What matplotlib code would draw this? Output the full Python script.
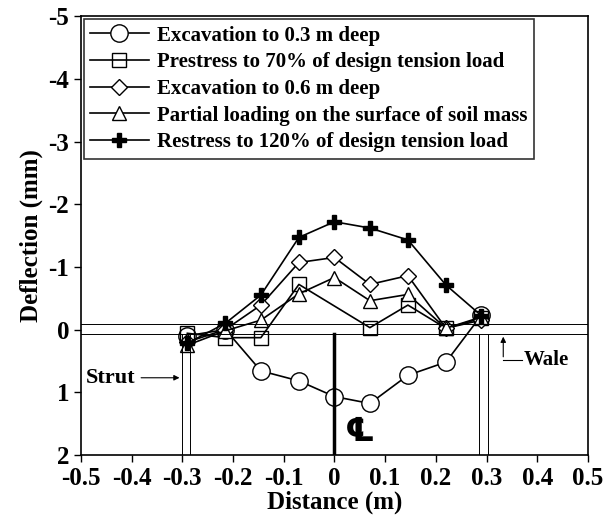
import numpy as np
import matplotlib
matplotlib.use("Agg")
import matplotlib.pyplot as plt

plt.rcParams['font.family'] = ['Liberation Serif', 'DejaVu Serif', 'DejaVu Sans']
plt.rcParams['font.weight'] = 'bold'
plt.rcParams['axes.unicode_minus'] = False

# positions along the wale (m)
x = [-0.29, -0.215, -0.145, -0.07, 0.0, 0.07, 0.145, 0.22, 0.29]
x_sq = [-0.29, -0.215, -0.145, -0.07, 0.07, 0.145, 0.22, 0.29]

exc03 = [0.10, 0.0, 0.66, 0.82, 1.07, 1.18, 0.73, 0.52, -0.23]
pre70 = [0.06, 0.13, 0.13, -0.72, -0.03, -0.39, -0.02, -0.18]
exc06 = [0.20, 0.0, -0.39, -1.07, -1.15, -0.72, -0.86, -0.02, -0.15]
partial = [0.25, 0.02, -0.15, -0.57, -0.83, -0.46, -0.56, -0.02, -0.20]
re120 = [0.22, -0.10, -0.55, -1.47, -1.72, -1.62, -1.43, -0.71, -0.22]

labels = ['Excavation to 0.3 m deep',
          'Prestress to 70% of design tension load',
          'Excavation to 0.6 m deep',
          'Partial loading on the surface of soil mass',
          'Restress to 120% of design tension load']

fig, ax = plt.subplots(figsize=(6.08, 5.24), dpi=100)
fig.subplots_adjust(left=0.133, right=0.967, top=0.969, bottom=0.132)

lw = 1.2
ax.plot(x, exc03, '-o', color='k', mfc='white', mec='k', ms=12.5, lw=lw, mew=1.0, label=labels[0])
ax.plot(x_sq, pre70, '-s', color='k', mfc='none', mec='k', ms=10, lw=lw, mew=1.0, label=labels[1])
ax.plot(x, exc06, '-D', color='k', mfc='white', mec='k', ms=8.5, lw=lw, mew=1.0, label=labels[2])
ax.plot(x, partial, '-^', color='k', mfc='white', mec='k', ms=10, lw=lw, mew=1.0, label=labels[3])
ax.plot(x, re120, '-P', color='k', mfc='k', mec='k', ms=10.5, lw=lw, label=labels[4])

# wale lines
ax.axhline(-0.09, color='k', lw=0.7)
ax.axhline(0.07, color='k', lw=0.7)

# struts
for xs in (-0.301, -0.284, 0.286, 0.302):
    ax.plot([xs, xs], [0.07, 2], color='k', lw=0.7)

# centre line
ax.plot([0, 0], [0.07, 2], color='k', lw=2.5)
ax.text(0.05, 1.65, '\u2104', fontsize=24, ha='center', va='center')

# annotations
ax.annotate('Strut', xy=(-0.3, 0.77), xytext=(-0.49, 0.77), fontsize=16,
            va='center', ha='left',
            arrowprops=dict(arrowstyle='-|>', color='k', lw=0.8, mutation_scale=8))
ax.annotate('', xy=(0.333, 0.07), xytext=(0.333, 0.48),
            arrowprops=dict(arrowstyle='-|>', color='k', lw=0.8, mutation_scale=8))
ax.plot([0.333, 0.37], [0.48, 0.48], color='k', lw=0.8)
ax.text(0.373, 0.48, 'Wale', fontsize=15, va='center', ha='left')

ax.set_xlim(-0.5, 0.5)
ax.set_ylim(2, -5)
ax.set_xticks(np.arange(-0.5, 0.51, 0.1))
ax.set_xticklabels(['-0.5', '-0.4', '-0.3', '-0.2', '-0.1', '0', '0.1', '0.2', '0.3', '0.4', '0.5'])
ax.set_yticks(range(-5, 3))
ax.tick_params(labelsize=18, direction='out', length=5, width=1)
ax.set_xlabel('Distance (m)', fontsize=18, fontweight='bold', labelpad=1)
ax.set_ylabel('Deflection (mm)', fontsize=18, fontweight='bold', labelpad=4)
for s in ax.spines.values():
    s.set_linewidth(1.2)

leg = ax.legend(loc='upper left', fontsize=15, frameon=True, fancybox=False,
                edgecolor='k', handlelength=2.8, borderpad=0.3, labelspacing=0.32,
                handletextpad=0.4, borderaxespad=0.15)
leg.get_frame().set_linewidth(1.2)
for t in leg.get_texts():
    t.set_fontweight('bold')

plt.savefig('out.png', dpi=100)
